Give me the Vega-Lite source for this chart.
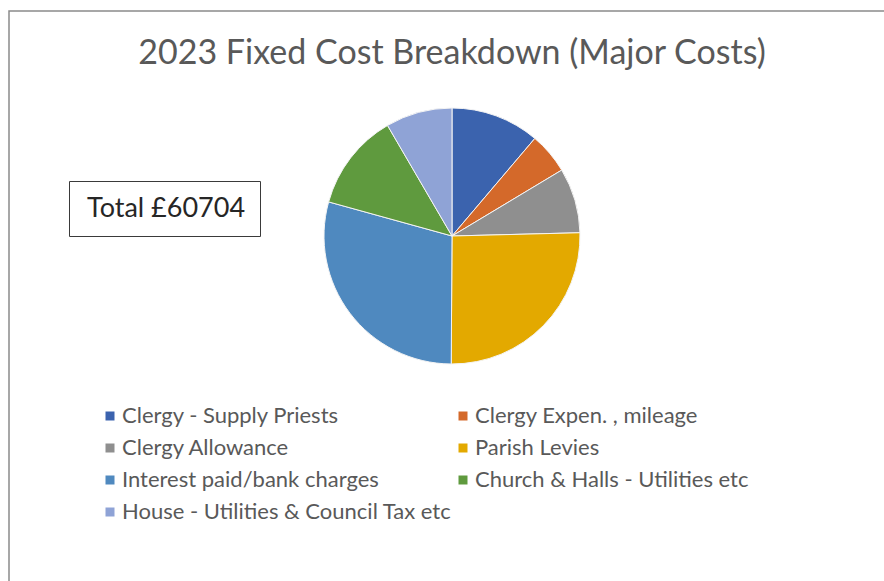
{
  "$schema": "https://vega.github.io/schema/vega-lite/v6.json",
  "width": 880,
  "height": 576,
  "autosize": {"type": "none"},
  "padding": {"left": 9, "top": 11, "right": 0, "bottom": 0},
  "background": "white",
  "view": {"stroke": "#8a8a8a", "strokeWidth": 1.5, "fill": "white"},
  "config": {
    "view": {"stroke": "#8a8a8a", "strokeWidth": 1.5},
    "font": "Lato"
  },
  "title": {
    "text": "2023 Fixed Cost Breakdown (Major Costs)",
    "frame": "group",
    "anchor": "middle",
    "font": "Lato",
    "fontSize": 34,
    "fontWeight": "normal",
    "color": "#595959",
    "dx": 3,
    "dy": 67
  },
  "datasets": {
    "costs": [
      {"category": "Clergy - Supply Priests", "amount": 6800},
      {"category": "Clergy Expen. , mileage", "amount": 3150},
      {"category": "Clergy Allowance", "amount": 4980},
      {"category": "Parish Levies", "amount": 15480},
      {"category": "Interest paid/bank charges", "amount": 17724},
      {"category": "Church & Halls - Utilities etc", "amount": 7470},
      {"category": "House - Utilities & Council Tax etc", "amount": 5100}
    ],
    "total": [
      {"label": "Total £60704"}
    ]
  },
  "layer": [
    {
      "data": {"name": "costs"},
      "transform": [{"window": [{"op": "row_number", "as": "rank"}]}],
      "mark": {"type": "arc", "x": 443, "y": 225, "radius": 128, "stroke": "#f4f4f4", "strokeWidth": 1},
      "encoding": {
        "theta": {"field": "amount", "type": "quantitative", "stack": true},
        "order": {"field": "rank", "type": "quantitative"},
        "color": {
          "field": "category",
          "type": "nominal",
          "sort": null,
          "scale": {
            "domain": ["Clergy - Supply Priests", "Clergy Expen. , mileage", "Clergy Allowance", "Parish Levies", "Interest paid/bank charges", "Church & Halls - Utilities etc", "House - Utilities & Council Tax etc"],
            "range": ["#3b63ae", "#d4692a", "#8f8f8f", "#e3a900", "#4f89bf", "#5f9a3e", "#8fa3d6"]
          },
          "legend": {
            "orient": "none",
            "legendX": 90,
            "legendY": 394,
            "title": null,
            "direction": "horizontal",
            "columns": 2,
            "columnPadding": -2,
            "rowPadding": 10,
            "padding": 0,
            "symbolType": "square",
            "symbolSize": 81,
            "symbolStrokeWidth": 0,
            "labelFont": "Lato",
            "labelFontSize": 22,
            "labelColor": "#595959",
            "labelOffset": 1,
            "labelLimit": 500
          }
        }
      }
    },
    {
      "data": {"name": "total"},
      "mark": {"type": "point", "opacity": 0},
      "encoding": {
        "x": {"datum": 0, "type": "quantitative", "axis": null},
        "y": {"datum": 0, "type": "quantitative", "axis": null},
        "shape": {
          "field": "label",
          "type": "nominal",
          "legend": {
            "orient": "none",
            "legendX": 60,
            "legendY": 170,
            "title": null,
            "padding": 14,
            "strokeColor": "#3a3a3a",
            "symbolType": "square",
            "symbolSize": 4,
            "symbolOpacity": 0,
            "symbolStrokeWidth": 0,
            "labelFont": "Lato",
            "labelFontSize": 27,
            "labelColor": "#262626",
            "labelOffset": -23,
            "labelLimit": 400
          }
        }
      }
    }
  ]
}
